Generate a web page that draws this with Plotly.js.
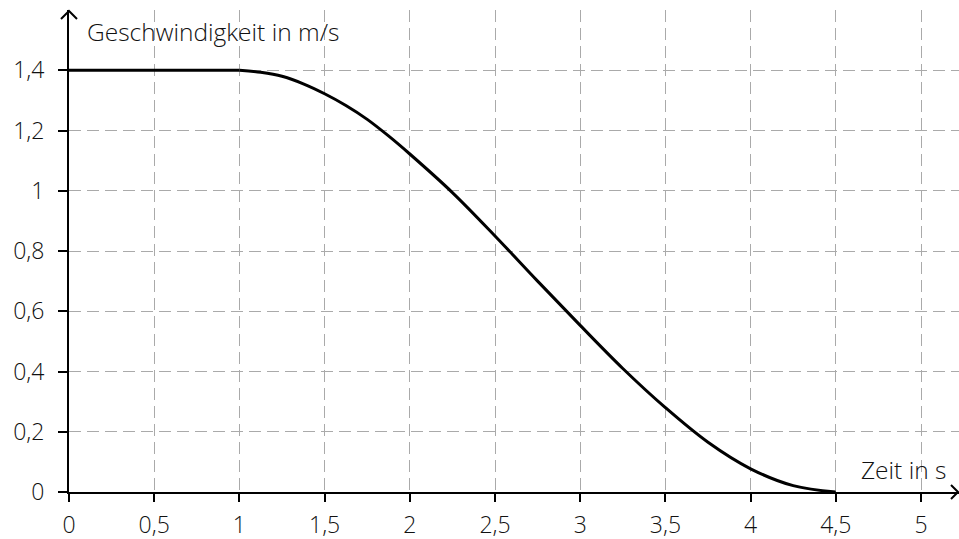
<!DOCTYPE html>
<html>
<head>
<meta charset="utf-8">
<script src="https://cdn.plot.ly/plotly-3.0.1.min.js"></script>
<style>html,body{margin:0;padding:0;background:#fff;}#chart{width:959px;height:539px;}</style>
</head>
<body>
<div id="chart"></div>
<script>
// Data
const zeit = [0, 0.5, 1, 1.125, 1.25, 1.375, 1.5, 1.625, 1.75, 1.875, 2, 2.25, 2.5, 2.75, 3, 3.25, 3.5, 3.75, 4, 4.25, 4.5];
const geschwindigkeit = [1.4, 1.4, 1.4, 1.393, 1.380, 1.355, 1.322, 1.283, 1.237, 1.182, 1.122, 0.994, 0.850, 0.700, 0.553, 0.410, 0.280, 0.165, 0.077, 0.021, 0];
const xTickVals = [0, 0.5, 1, 1.5, 2, 2.5, 3, 3.5, 4, 4.5, 5];
const xTickText = ["0", "0,5", "1", "1,5", "2", "2,5", "3", "3,5", "4", "4,5", "5"];
const yTickVals = [0, 0.2, 0.4, 0.6, 0.8, 1, 1.2, 1.4];
const yTickText = ["0", "0,2", "0,4", "0,6", "0,8", "1", "1,2", "1,4"];
const yTitle = "Geschwindigkeit in m/s";
const xTitle = "Zeit in s";

const fontFam = "Open Sans, Liberation Sans, Arial, sans-serif";
const txtColor = "#111";
const tf = {family: fontFam, size: 23, color: txtColor, weight: 300};
const titleFont = {family: fontFam, size: 24.5, color: txtColor, weight: 300};

// flat part (constant speed) drawn straight, braking part drawn as smooth curve
const flatEnd = 3; // first three points are the constant segment
const traces = [
  {x: zeit.slice(0, flatEnd), y: geschwindigkeit.slice(0, flatEnd), type: "scatter", mode: "lines",
   line: {color: "#000", width: 3, shape: "linear"}, hoverinfo: "skip"},
  {x: zeit.slice(flatEnd - 1), y: geschwindigkeit.slice(flatEnd - 1), type: "scatter", mode: "lines",
   line: {color: "#000", width: 3, shape: "spline", smoothing: 1}, hoverinfo: "skip"}
];

const layout = {
  width: 959, height: 539,
  margin: {l: 69, r: 0, t: 10, b: 47},
  paper_bgcolor: "#fff", plot_bgcolor: "#fff",
  showlegend: false,
  font: tf,
  xaxis: {
    range: [0, 5.223], tickvals: xTickVals, ticktext: xTickText,
    showgrid: true, gridcolor: "#aaaaaa", gridwidth: 1, griddash: "12px,6px",
    showline: true, linecolor: "#000", linewidth: 2,
    ticks: "outside", ticklen: 8, tickwidth: 2, tickcolor: "#000",
    zeroline: false, fixedrange: true, ticklabelstandoff: 3,
    tickfont: tf
  },
  yaxis: {
    range: [0, 1.6], tickvals: yTickVals, ticktext: yTickText,
    showgrid: true, gridcolor: "#aaaaaa", gridwidth: 1, griddash: "12px,6px",
    showline: true, linecolor: "#000", linewidth: 2,
    ticks: "outside", ticklen: 9, tickwidth: 2, tickcolor: "#000",
    zeroline: false, fixedrange: true, ticklabelstandoff: 9,
    tickfont: tf
  },
  annotations: [
    {text: yTitle, xref: "paper", yref: "paper", x: (85-69)/890, y: (492-32)/482, xanchor: "left", yanchor: "middle",
     showarrow: false, font: titleFont},
    {text: xTitle, xref: "paper", yref: "paper", x: (948-69)/890, y: (492-469)/482, xanchor: "right", yanchor: "middle",
     showarrow: false, font: titleFont}
  ],
  shapes: [
    {type: "path", xref: "paper", yref: "paper", xsizemode: "pixel", ysizemode: "pixel", xanchor: 0, yanchor: 1,
     path: "M -8 -9 L 0 -1 L 8 -9", line: {color: "#000", width: 2}},
    {type: "path", xref: "paper", yref: "paper", xsizemode: "pixel", ysizemode: "pixel", xanchor: 1, yanchor: 0,
     path: "M -8 7 L -1 0 L -8 -7", line: {color: "#000", width: 2}}
  ]
};

Plotly.newPlot("chart", traces, layout, {displayModeBar: false, staticPlot: true});
</script>
</body>
</html>
